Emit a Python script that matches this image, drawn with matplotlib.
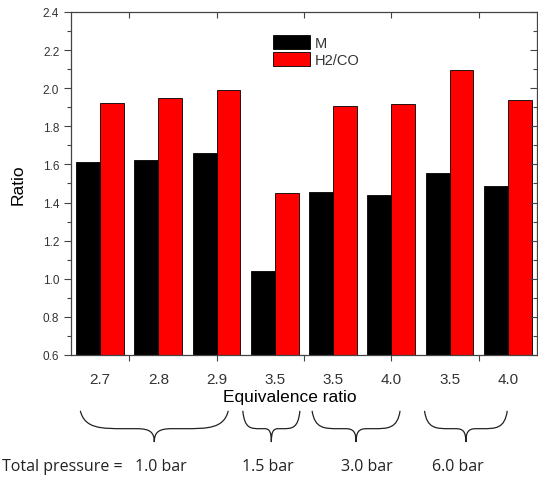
import numpy as np
import matplotlib
matplotlib.use("Agg")
import matplotlib.pyplot as plt
from matplotlib.path import Path
from matplotlib.patches import PathPatch
from matplotlib.transforms import blended_transform_factory
from matplotlib.ticker import MultipleLocator

plt.rcParams["font.family"] = ["Liberation Sans", "DejaVu Sans"]

# data
eq_labels = ["2.7", "2.8", "2.9", "3.5", "3.5", "4.0", "3.5", "4.0"]
m_vals = [1.613, 1.624, 1.660, 1.041, 1.456, 1.440, 1.555, 1.487]
h2co_vals = [1.923, 1.949, 1.990, 1.450, 1.907, 1.917, 2.096, 1.938]
pressure_labels = ["1.0 bar", "1.5 bar", "3.0 bar", "6.0 bar"]
# brace spans in bar-index units
brace_spans = [(-0.34, 2.2), (2.45, 3.43), (3.64, 5.15), (5.57, 6.99)]
pressure_x = [1.05, 2.88, 4.58, 6.14]

fig = plt.figure(figsize=(5.38, 4.81), dpi=100)
ax = fig.add_axes([0.132, 0.26, 0.866, 0.713])

x = np.arange(len(eq_labels))
w = 0.41
ax.bar(x - w / 2, m_vals, w, color="black", edgecolor="black", linewidth=0.6, label="M")
ax.bar(x + w / 2, h2co_vals, w, color="#ff0000", edgecolor="black", linewidth=0.6, label="H2/CO")

ax.set_xlim(-0.5, 7.5)
ax.set_ylim(0.6, 2.4)
ax.yaxis.set_major_locator(MultipleLocator(0.2))
ax.yaxis.set_minor_locator(MultipleLocator(0.1))
ax.yaxis.set_major_formatter(matplotlib.ticker.FormatStrFormatter("%.1f"))

# odd Origin-style ticks on x, labels placed separately
ax.set_xticks([0.5, 2.0, 3.5, 5.0, 6.5])
ax.set_xticklabels([])
ax.tick_params(axis="x", which="major", direction="out", length=4, top=True, width=0.8, color="#444444")
ax.tick_params(axis="y", which="major", direction="out", length=5, right=True, width=0.8, color="#444444",
               labelsize=8.5, labelcolor="#333333")
ax.tick_params(axis="y", which="minor", direction="out", length=3, right=True, width=0.8, color="#444444")
for t in ax.xaxis.get_major_ticks():
    t.tick2line.set_marker(3)
for t in ax.yaxis.get_major_ticks() + ax.yaxis.get_minor_ticks():
    t.tick2line.set_marker(0)

trans = blended_transform_factory(ax.transData, ax.transAxes)
for xi, lab in zip(x, eq_labels):
    ax.text(xi, -0.05, lab, transform=trans, ha="center", va="top", fontsize=11, color="#333333")

for s in ax.spines.values():
    s.set_color("#444444")
    s.set_linewidth(0.9)

ax.set_ylabel("Ratio", fontsize=12.5, labelpad=12)
ax.text(0.47, -0.10, "Equivalence ratio", transform=ax.transAxes, ha="center", va="top", fontsize=12.5)

leg = ax.legend(loc="upper left", bbox_to_anchor=(0.42, 0.95), frameon=False, fontsize=10.5,
                handlelength=2.6, handleheight=1.15, handletextpad=0.3, labelspacing=0.1,
                borderaxespad=0, labelcolor="#333333")


def brace(x0, x1, yt=-0.163, ym=-0.215, yb=-0.254):
    xc = (x0 + x1) / 2
    wd = x1 - x0
    verts = [(x0, yt),
             (x0 + 0.03 * wd, ym), (x0 + 0.14 * wd, ym), (x0 + 0.3 * wd, ym),
             (xc - 0.12 * wd, ym),
             (xc - 0.03 * wd, ym), (xc, ym - 0.01), (xc, yb),
             (xc, ym - 0.01), (xc + 0.03 * wd, ym), (xc + 0.12 * wd, ym),
             (x1 - 0.3 * wd, ym),
             (x1 - 0.14 * wd, ym), (x1 - 0.03 * wd, ym), (x1, yt)]
    codes = [Path.MOVETO,
             Path.CURVE4, Path.CURVE4, Path.CURVE4,
             Path.LINETO,
             Path.CURVE4, Path.CURVE4, Path.CURVE4,
             Path.CURVE4, Path.CURVE4, Path.CURVE4,
             Path.LINETO,
             Path.CURVE4, Path.CURVE4, Path.CURVE4]
    p = PathPatch(Path(verts, codes), transform=trans, fill=False, edgecolor="#222222",
                  linewidth=0.9, clip_on=False)
    ax.add_patch(p)


for (a, b) in brace_spans:
    brace(a, b)

for px, lab in zip(pressure_x, pressure_labels):
    ax.text(px, -0.324, lab, transform=trans, ha="center", va="center", fontsize=11.5, color="#222222",
            family=["Open Sans", "DejaVu Sans"])
fig.text(0.003, 0.029, "Total pressure =", ha="left", va="center", fontsize=11.5,
         color="#222222", family=["Open Sans", "DejaVu Sans"])

fig.savefig("out.png", dpi=100)
